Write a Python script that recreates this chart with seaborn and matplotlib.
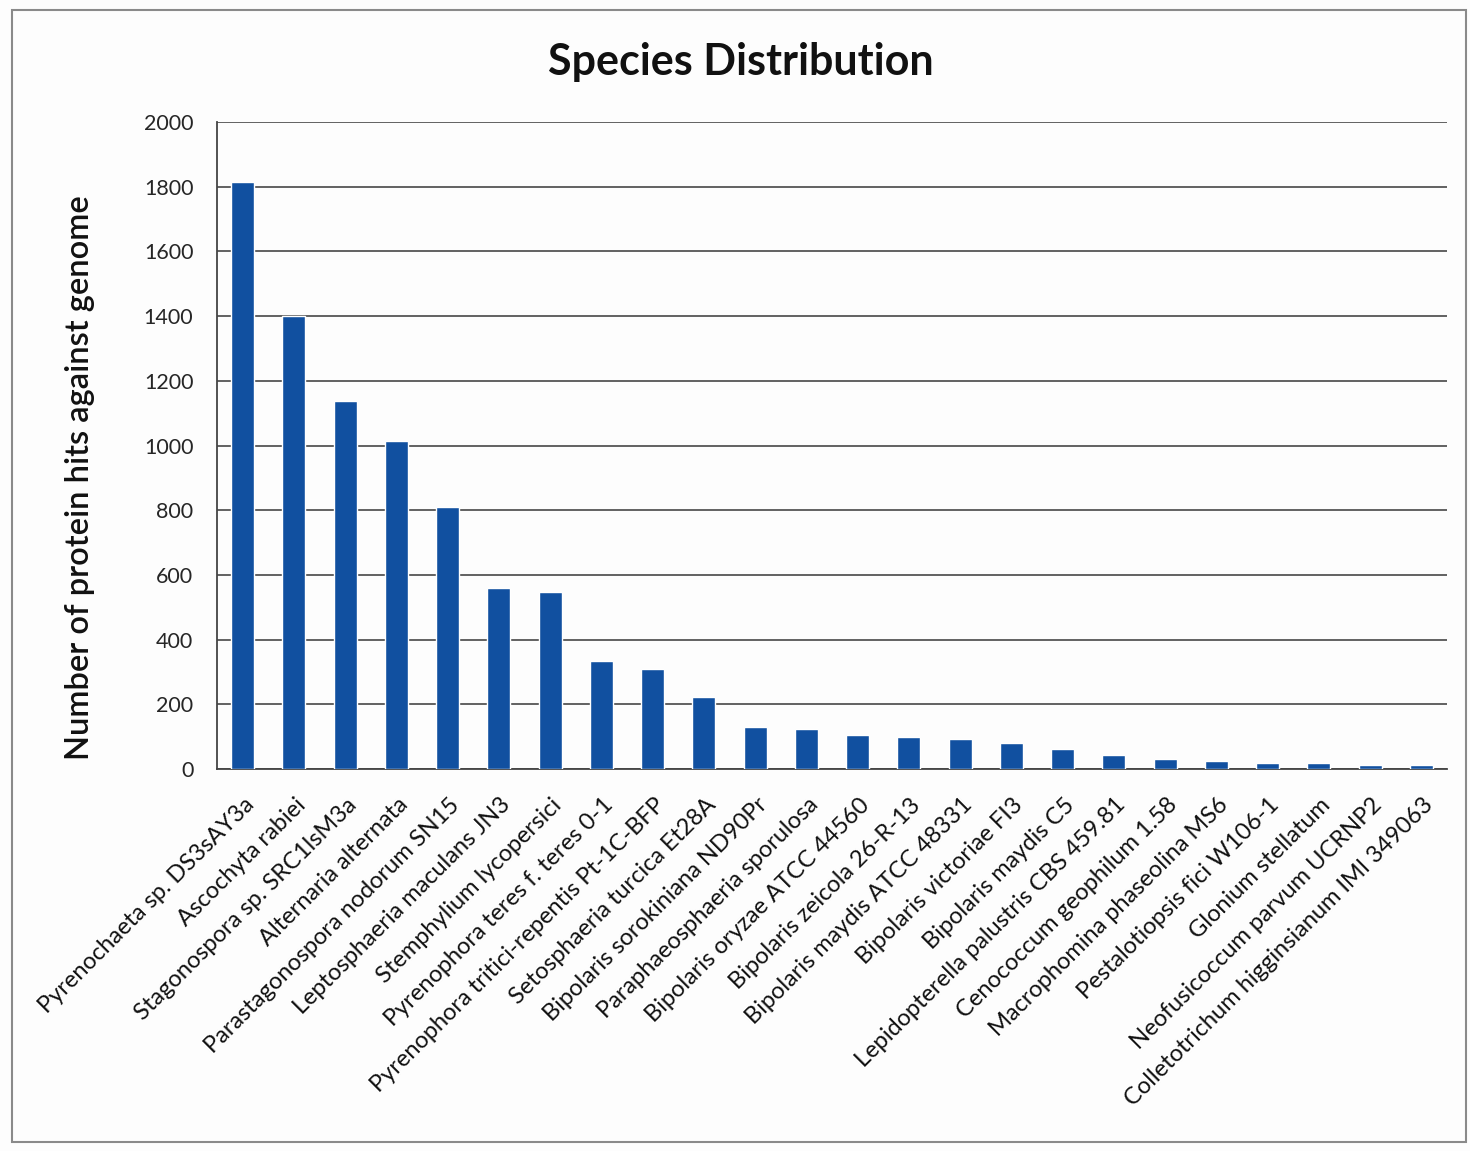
import matplotlib
matplotlib.use("Agg")
import matplotlib.pyplot as plt
import seaborn as sns
import pandas as pd
from matplotlib.patches import Rectangle

species = [
    "Pyrenochaeta sp. DS3sAY3a",
    "Ascochyta rabiei",
    "Stagonospora sp. SRC1lsM3a",
    "Alternaria alternata",
    "Parastagonospora nodorum SN15",
    "Leptosphaeria maculans JN3",
    "Stemphylium lycopersici",
    "Pyrenophora teres f. teres 0-1",
    "Pyrenophora tritici-repentis Pt-1C-BFP",
    "Setosphaeria turcica Et28A",
    "Bipolaris sorokiniana ND90Pr",
    "Paraphaeosphaeria sporulosa",
    "Bipolaris oryzae ATCC 44560",
    "Bipolaris zeicola 26-R-13",
    "Bipolaris maydis ATCC 48331",
    "Bipolaris victoriae FI3",
    "Bipolaris maydis C5",
    "Lepidopterella palustris CBS 459.81",
    "Cenococcum geophilum 1.58",
    "Macrophomina phaseolina MS6",
    "Pestalotiopsis fici W106-1",
    "Glonium stellatum",
    "Neofusicoccum parvum UCRNP2",
    "Colletotrichum higginsianum IMI 349063",
]
hits = [1813, 1400, 1138, 1015, 811, 561, 547, 333, 308, 222,
        129, 123, 105, 98, 92, 80, 63, 43, 31, 25, 19, 18, 13, 12]
y_ticks = [0, 200, 400, 600, 800, 1000, 1200, 1400, 1600, 1800, 2000]

df = pd.DataFrame({"species": species, "hits": hits})

sns.set_style("white")
plt.rcParams["font.family"] = ["Lato", "DejaVu Sans"]

W, H = 1470, 1151
fig = plt.figure(figsize=(W / 100, H / 100), dpi=100, facecolor="#fdfdfd")
ax = fig.add_axes([217 / W, 1 - 769 / H, (1447 - 217) / W, (769 - 122) / H])
ax.set_facecolor("#fdfdfd")

sns.barplot(data=df, x="species", y="hits", color="#1150a0", saturation=1,
            width=0.45, ax=ax, zorder=3)

ax.set_ylim(0, 2000)
ax.set_xlim(-0.5, len(species) - 0.5)
ax.set_yticks(y_ticks)
ax.set_yticklabels([str(v) for v in y_ticks], fontsize=15.5)
ax.yaxis.grid(True, color="#555555", linewidth=1.3, zorder=0)
ax.set_axisbelow(True)

# category ticks sit on the boundaries between bars
ax.set_xticks([i + 0.5 for i in range(-1, len(species))], minor=False)
ax.set_xticklabels([])
ax.tick_params(axis="x", which="major", direction="out", length=7,
               width=1.2, color="#333333")
ax.tick_params(axis="y", direction="out", length=7, width=1.2,
               color="#333333", pad=10)
for i, name in enumerate(species):
    ax.text(i + 0.02, -78, name, rotation=45, ha="right", va="top",
            rotation_mode="anchor", fontsize=17, color="#111111")

for side in ("top", "right"):
    ax.spines[side].set_visible(False)
for side in ("left", "bottom"):
    ax.spines[side].set_color("#444444")
    ax.spines[side].set_linewidth(1.3)

ax.set_xlabel("")
ax.set_ylabel("Number of protein hits against genome", fontsize=23.5,
              fontweight="semibold", color="#111111")
ax.yaxis.set_label_coords(-0.099, 0.45)
fig.text(741 / W, 1 - 62 / H, "Species Distribution", ha="center",
         va="center", fontsize=31, fontweight="bold", color="#111111")

fig.patches.append(Rectangle((12 / W, 1 - 1142 / H), (1466 - 12) / W,
                             (1142 - 10) / H, transform=fig.transFigure,
                             fill=False, edgecolor="#8a8a8a", linewidth=1.5))

fig.savefig("out.png", dpi=100, facecolor=fig.get_facecolor())
